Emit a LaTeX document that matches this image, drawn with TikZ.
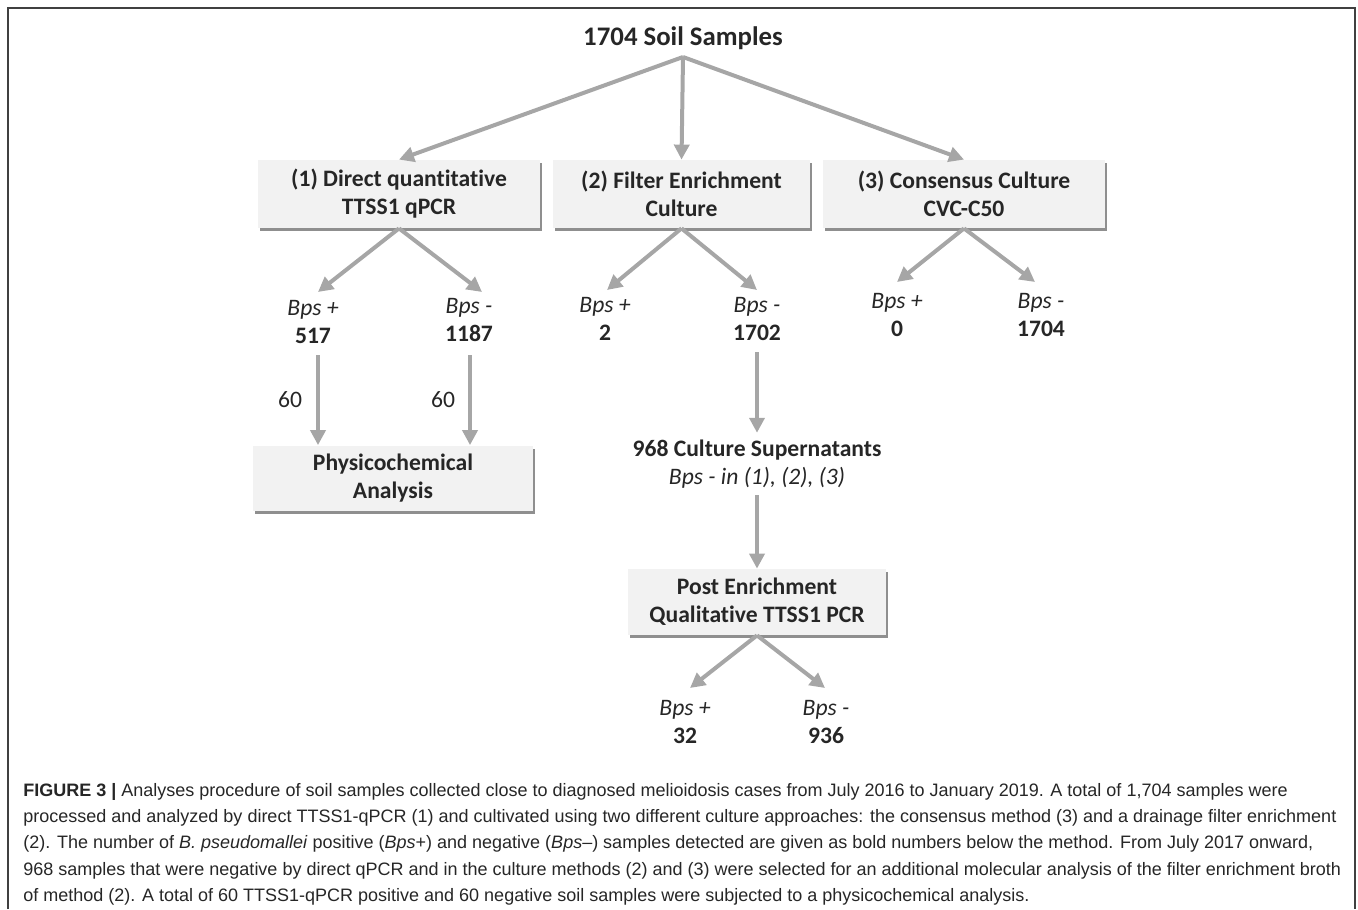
\documentclass[tikz,border=0pt]{standalone}
\usepackage{fontspec}
\setmainfont{Carlito}[Ligatures={NoCommon}]
\newfontfamily\capfont{Liberation Sans}
\usepackage{tikz}
\usetikzlibrary{positioning}
\usetikzlibrary{arrows.meta}
\usetikzlibrary{shadows}
\usepackage{xcolor}
\definecolor{arrowgray}{HTML}{A6A6A6}
\definecolor{boxgray}{HTML}{F2F2F2}
\definecolor{textgray}{HTML}{262626}

\begin{document}
\begin{tikzpicture}[
		x=0.5pt, y=-0.5pt,
		% Style definitions for the flow chart
		stage/.style={fill=boxgray, minimum height=34pt, font=\bfseries\fontsize{11.8}{14}\selectfont, align=center, text=textgray,
			drop shadow={shadow xshift=1pt, shadow yshift=-1.5pt, fill=black!55, opacity=0.8}},
		result/.style={font=\fontsize{11.8}{14}\selectfont, align=center, text=textgray},
		count/.style={font=\fontsize{11.8}{14}\selectfont, text=textgray},
		arrow/.style={-{Triangle[length=7.5pt, width=7.5pt]}, line width=2pt, arrowgray},
		]
		\useasboundingbox (0,0) rectangle (1358,909);

		% === Frame ===
		\draw[line width=1pt, black!75] (8,909) -- (8,8) -- (1355,8) -- (1355,909);

		% === Top ===
		\node[font=\bfseries\fontsize{13.4}{15}\selectfont, text=textgray] (soil) at (683,38) {1704 Soil Samples};
		\coordinate (top) at (683,57);

		% === Three methods ===
		\node[stage, minimum width=141pt] (direct) at (399,194) {(1) Direct quantitative\\TTSS1 qPCR};
		\node[stage, minimum width=128.5pt] (filter) at (681.5,194) {(2) Filter Enrichment\\Culture};
		\node[stage, minimum width=141pt] (consensus) at (964,194) {(3) Consensus Culture\\CVC-C50};

		% === Results ===
		\node[result] (dpos) at (313,322) {\textit{Bps +}\\\textbf{517}};
		\node[result] (dneg) at (469,320) {\textit{Bps -}\\\textbf{1187}};
		\node[result] (fpos) at (605,319) {\textit{Bps +}\\\textbf{2}};
		\node[result] (fneg) at (757,319) {\textit{Bps -}\\\textbf{1702}};
		\node[result] (cpos) at (897,315) {\textit{Bps +}\\\textbf{0}};
		\node[result] (cneg) at (1041,315) {\textit{Bps -}\\\textbf{1704}};

		% === Physicochemical ===
		\node[stage, minimum width=140pt, minimum height=32.5pt] (physico) at (393,478) {Physicochemical\\Analysis};
		\node[count] at (290,400) {60};
		\node[count] at (443,400) {60};

		% === Supernatants and post enrichment ===
		\node[result] (super) at (757,464) {\textbf{968 Culture Supernatants}\\\textit{Bps - in (1), (2), (3)}};
		\node[stage, minimum width=129pt, minimum height=33pt] (post) at (757,602) {Post Enrichment\\Qualitative TTSS1 PCR};
		\node[result] (ppos) at (685,722) {\textit{Bps +}\\\textbf{32}};
		\node[result] (pneg) at (826,722) {\textit{Bps -}\\\textbf{936}};

		% === Arrows ===
		\draw[arrow] (top) -- (direct.north);
		\draw[arrow] (top) -- (filter.north);
		\draw[arrow] (top) -- (consensus.north);
		\draw[arrow] (direct.south) -- (318,292);
		\draw[arrow] (direct.south) -- (482,292);
		\draw[arrow] (filter.south) -- (607,290);
		\draw[arrow] (filter.south) -- (757,290);
		\draw[arrow] (consensus.south) -- (897,282);
		\draw[arrow] (consensus.south) -- (1035,282);
		\draw[arrow] (318,355) -- (physico.north -| 318,0);
		\draw[arrow] (470,355) -- (physico.north -| 470,0);
		\draw[arrow] (757,352) -- (super.north);
		\draw[arrow] (super.south) -- (post.north);
		\draw[arrow] (post.south) -- (690,688);
		\draw[arrow] (post.south) -- (825,688);

		% === Caption ===
		\node[anchor=north west, inner sep=0pt, align=left, font=\capfont\fontsize{9}{13.1}\selectfont, text=black!85] (caption) at (23,783) {%
			\textbf{FIGURE 3 |} Analyses procedure of soil samples collected close to diagnosed melioidosis cases from July 2016 to January 2019. A total of 1,704 samples were\\
			processed and analyzed by direct TTSS1-qPCR (1) and cultivated using two different culture approaches: the consensus method (3) and a drainage filter enrichment\\
			(2). The number of \textit{B. pseudomallei} positive (\textit{Bps}+) and negative (\textit{Bps}–) samples detected are given as bold numbers below the method. From July 2017 onward,\\
			968 samples that were negative by direct qPCR and in the culture methods (2) and (3) were selected for an additional molecular analysis of the filter enrichment broth\\
			of method (2). A total of 60 TTSS1-qPCR positive and 60 negative soil samples were subjected to a physicochemical analysis.};

	\end{tikzpicture}
\end{document}
